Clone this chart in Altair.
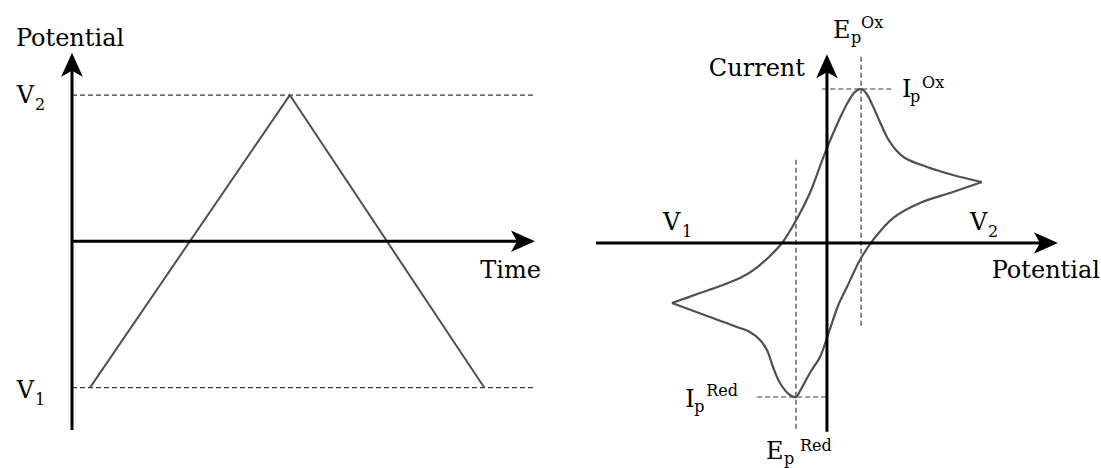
import altair as alt
import pandas as pd

FONT = "DejaVu Serif"
INK = "#000000"
TRACE = "#505050"
GUIDE = "#3a3a3a"

# ---- Left panel: triangular potential sweep versus time ----
sweep_time = [0.5, 6.05, 11.45]
sweep_potential = [-1.0, 1.0, -1.0]
V1, V2 = -1.0, 1.0
time_axis_end = 12.86          # arrow tip of the time axis
potential_axis_span = 1.29     # vertical axis runs from -span to +span

# ---- Right panel: cyclic voltammogram (forward = oxidation sweep V1 -> V2) ----
forward_E = [-1.000, -0.819, -0.690, -0.561, -0.465, -0.381, -0.290, -0.194, -0.110,
             -0.013, 0.084, 0.136, 0.181, 0.220, 0.252, 0.290, 0.342, 0.394,
             0.445, 0.503, 0.645, 0.813, 1.000]
forward_I = [-0.390, -0.325, -0.279, -0.227, -0.169, -0.097, 0.000, 0.156, 0.325,
             0.584, 0.812, 0.916, 0.981, 1.000, 0.974, 0.903, 0.786, 0.675,
             0.604, 0.552, 0.494, 0.442, 0.396]
reverse_E = [1.000, 0.813, 0.600, 0.426, 0.297, 0.213, 0.129, 0.071, 0.000, -0.045,
             -0.110, -0.174, -0.200, -0.239, -0.303, -0.348, -0.387, -0.432,
             -0.497, -0.581, -0.755, -1.000]
reverse_I = [0.396, 0.331, 0.260, 0.162, 0.019, -0.110, -0.286, -0.409, -0.617, -0.740,
             -0.844, -0.961, -1.000, -0.987, -0.909, -0.805, -0.695, -0.630,
             -0.578, -0.545, -0.481, -0.390]
Ep_ox, Ip_ox = 0.22, 1.0
Ep_red, Ip_red = -0.20, -1.0
cv_E_axis = 1.49               # horizontal axis runs from -1.49 to +1.49 (tip)
cv_I_axis = 1.225              # vertical axis runs from -1.225 to +1.225 (tip)

# Arrowhead: tip at the origin, pointing up, concave back
ARROW = "M0,0 L0.9,2 L0,1.5 L-0.9,2 Z"
ARROW_SIZE = 576

LEFT_W, RIGHT_W, H = 576, 525, 468
xs_left = alt.Scale(domain=[-2, 14], nice=False, zero=False)
ys_left = alt.Scale(domain=[-1.55, 1.65], nice=False, zero=False)
xs_right = alt.Scale(domain=[-1.619, 1.768], nice=False, zero=False)
ys_right = alt.Scale(domain=[-1.461, 1.578], nice=False, zero=False)


def xy(xs, ys):
    return dict(x=alt.X("x:Q", scale=xs, axis=None),
                y=alt.Y("y:Q", scale=ys, axis=None))


def segments(rows, xs, ys, **mark):
    df = pd.DataFrame(rows, columns=["x", "y", "x2", "y2"])
    return alt.Chart(df).mark_rule(**mark).encode(x2="x2:Q", y2="y2:Q", **xy(xs, ys))


def arrowheads(points, angle, xs, ys):
    df = pd.DataFrame(points, columns=["x", "y"])
    return alt.Chart(df).mark_point(shape=ARROW, size=ARROW_SIZE, filled=True,
                                    opacity=1, color="black", strokeWidth=0,
                                    angle=angle).encode(**xy(xs, ys))


def label(text, x, y, dx, dy, xs, ys, size=24, align="left"):
    df = pd.DataFrame({"x": [x], "y": [y], "t": [text]})
    return alt.Chart(df).mark_text(text=text, align=align, baseline="alphabetic",
                                   dx=dx, dy=dy, font=FONT, fontSize=size,
                                   color=INK).encode(**xy(xs, ys))


DASH = dict(color=GUIDE, strokeWidth=1.2, strokeDash=[5, 3])

# ---------------- left panel ----------------
xl, yl = xs_left, ys_left
left_axes = segments([[0, -potential_axis_span, 0, potential_axis_span - 0.07],
                      [0, 0, time_axis_end - 0.28, 0]], xl, yl,
                     color="black", strokeWidth=3)
left_guides = segments([[0, V2, time_axis_end, V2], [0, V1, time_axis_end, V1]],
                       xl, yl, **DASH)
sweep = alt.Chart(pd.DataFrame({"x": sweep_time, "y": sweep_potential,
                                "k": range(len(sweep_time))})).mark_line(
    color=TRACE, strokeWidth=2).encode(order="k:Q", **xy(xl, yl))
left_heads = (arrowheads([[0, potential_axis_span]], 0, xl, yl)
              + arrowheads([[time_axis_end, 0]], 90, xl, yl))
left_text = [
    label("Potential", 0, potential_axis_span, -2, -7, xl, yl, align="center"),
    label("Time", time_axis_end, 0, 6, 37, xl, yl, align="right"),
    label("V", 0, V2, -38, 8, xl, yl, align="right"),
    label("2", 0, V2, -37, 15, xl, yl, size=16),
    label("V", 0, V1, -38, 10, xl, yl, align="right"),
    label("1", 0, V1, -37, 17, xl, yl, size=16),
]
left = alt.layer(left_guides, sweep, left_axes, left_heads, *left_text).properties(
    width=LEFT_W, height=H)

# ---------------- right panel ----------------
xr, yr = xs_right, ys_right
right_axes = segments([[0, -cv_I_axis, 0, cv_I_axis - 0.065],
                       [-cv_E_axis, 0, cv_E_axis - 0.065, 0]], xr, yr,
                      color="black", strokeWidth=3)
right_guides = segments([[Ep_ox, 1.21, Ep_ox, -0.55],
                         [-0.03, Ip_ox, 0.42, Ip_ox],
                         [Ep_red, 0.54, Ep_red, -cv_I_axis],
                         [-0.45, Ip_red, 0, Ip_red]], xr, yr, **DASH)
cv = pd.concat([
    pd.DataFrame({"x": forward_E, "y": forward_I, "branch": "forward",
                  "k": range(len(forward_E))}),
    pd.DataFrame({"x": reverse_E, "y": reverse_I, "branch": "reverse",
                  "k": range(len(reverse_E))}),
])
cv_line = alt.Chart(cv).mark_line(color=TRACE, strokeWidth=2.2,
                                  interpolate="catmull-rom").encode(
    detail="branch:N", order="k:Q", **xy(xr, yr))
right_heads = (arrowheads([[0, cv_I_axis]], 0, xr, yr)
               + arrowheads([[cv_E_axis, 0]], 90, xr, yr))
right_text = [
    label("Current", 0, cv_I_axis, -22, 22, xr, yr, align="right"),
    label("Potential", cv_E_axis, 0, 42, 35, xr, yr, align="right"),
    label("V", V1, 0, -9, -13, xr, yr),
    label("1", V1, 0, 10, -6, xr, yr, size=16),
    label("V", V2, 0, -12, -13, xr, yr),
    label("2", V2, 0, 6, -6, xr, yr, size=16),
    label("E", Ep_ox, 1.21, -28, -19, xr, yr),
    label("p", Ep_ox, 1.21, -10, -14, xr, yr, size=16),
    label("Ox", Ep_ox, 1.21, 0, -29, xr, yr, size=16),
    label("I", 0.42, Ip_ox, 10, 8, xr, yr),
    label("p", 0.42, Ip_ox, 18, 13, xr, yr, size=16),
    label("Ox", 0.42, Ip_ox, 30, -1, xr, yr, size=16),
    label("I", -0.45, Ip_red, -72, 10, xr, yr),
    label("p", -0.45, Ip_red, -63, 15, xr, yr, size=16),
    label("Red", -0.45, Ip_red, -51, -1, xr, yr, size=16),
    label("E", Ep_red, -cv_I_axis, -30, 27, xr, yr),
    label("p", Ep_red, -cv_I_axis, -12, 32, xr, yr, size=16),
    label("Red", Ep_red, -cv_I_axis, 4, 19, xr, yr, size=16),
]
right = alt.layer(right_guides, cv_line, right_axes, right_heads, *right_text).properties(
    width=RIGHT_W, height=H)

chart = alt.hconcat(left, right, spacing=0).properties(
    padding=0, background="white"
).configure_view(strokeWidth=0)

chart.save("out.html", embed_options={"renderer": "svg", "actions": False})
